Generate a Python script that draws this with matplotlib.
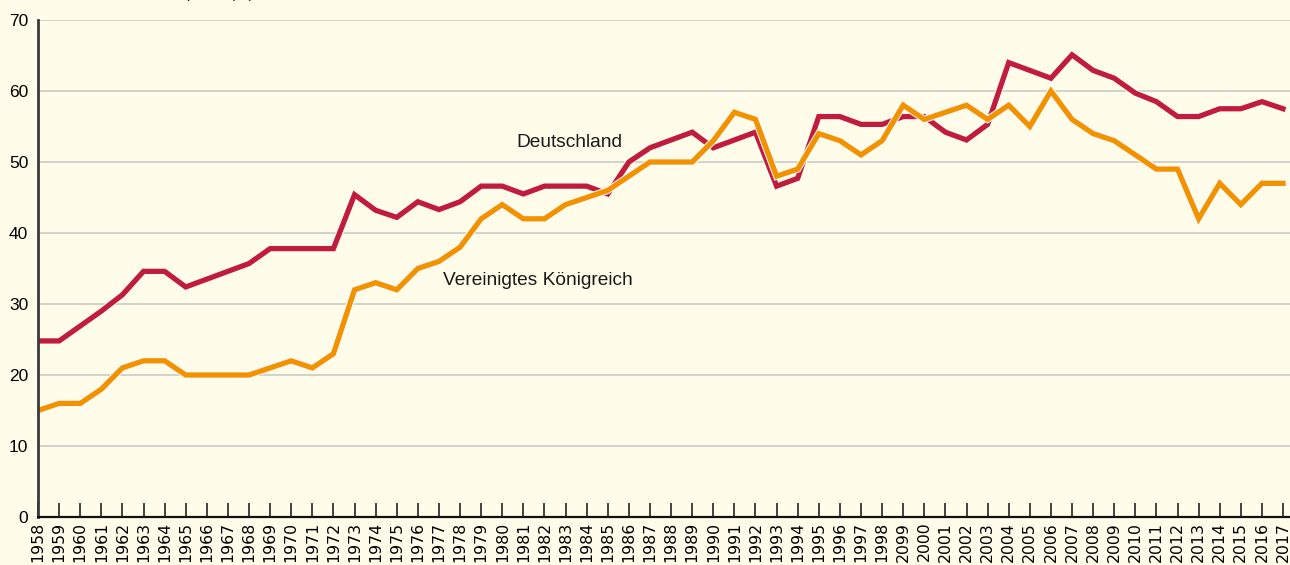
import matplotlib
matplotlib.use("Agg")
import matplotlib.pyplot as plt
import matplotlib.patheffects as pe

years = list(range(1958, 2018))
year_labels = [str(y) for y in years]
year_labels[years.index(1999)] = "2099"  # as printed in the original

deutschland = [24.8, 24.8, 26.9, 29.0, 31.3, 34.6, 34.6, 32.4, 33.5, 34.6,
               35.7, 37.8, 37.8, 37.8, 37.8, 45.4, 43.2, 42.2, 44.4, 43.3,
               44.4, 46.6, 46.6, 45.5, 46.6, 46.6, 46.6, 45.5, 50.0, 52.0,
               53.1, 54.2, 52.0, 53.1, 54.2, 46.6, 47.7, 56.4, 56.4, 55.3,
               55.3, 56.4, 56.4, 54.2, 53.1, 55.3, 64.0, 62.9, 61.8, 65.1,
               62.9, 61.8, 59.7, 58.5, 56.4, 56.4, 57.5, 57.5, 58.5, 57.5]

vereinigtes_koenigreich = [15, 16, 16, 18, 21, 22, 22, 20, 20, 20,
                           20, 21, 22, 21, 23, 32, 33, 32, 35, 36,
                           38, 42, 44, 42, 42, 44, 45, 46, 48, 50,
                           50, 50, 53, 57, 56, 48, 49, 54, 53, 51,
                           53, 58, 56, 57, 58, 56, 58, 55, 60, 56,
                           54, 53, 51, 49, 49, 42, 47, 44, 47, 47]

y_ticks = [0, 10, 20, 30, 40, 50, 60, 70]

BG = "#FFFCE9"
RED = "#C11D3B"
ORANGE = "#F39200"

W, H = 1290, 565
fig = plt.figure(figsize=(W / 100, H / 100), dpi=100, facecolor=BG)
left_px, right_px, top_px, bottom_px = 38, 1290, 20, 517
ax = fig.add_axes([left_px / W, (H - bottom_px) / H,
                   (right_px - left_px) / W, (bottom_px - top_px) / H])
ax.set_facecolor(BG)

ax.set_xlim(1958, 2017.33)
ax.set_ylim(0, 70)

for y in y_ticks[1:]:
    ax.axhline(y, color="#CBCBC6", lw=1.2, zorder=1)

ax.plot(years, deutschland, color=RED, lw=3.8, solid_joinstyle="miter",
        zorder=3, path_effects=[pe.Stroke(linewidth=5.2, foreground="#FFFFFF"), pe.Normal()])
ax.plot(years, vereinigtes_koenigreich, color=ORANGE, lw=3.8, solid_joinstyle="miter",
        zorder=4, path_effects=[pe.Stroke(linewidth=5.2, foreground="#FFFFFF"), pe.Normal()])

font = "Liberation Sans"
ax.text(1983.2, 52.8, "Deutschland", fontsize=13.8, family=font, ha="center",
        va="center", color="#1a1a1a")
ax.text(1977.2, 33.3, "Vereinigtes Königreich", fontsize=13.8, family=font,
        ha="left", va="center", color="#1a1a1a")

ax.set_xticks(years)
ax.set_xticklabels(year_labels, rotation=90, fontsize=11.3, family="DejaVu Sans", va="top")
ax.tick_params(axis="x", direction="in", length=10, width=1.2, color="#222222", pad=3.5)
ax.set_yticks(y_ticks)
ax.set_yticklabels([str(v) for v in y_ticks], fontsize=12.5, family=font)
ax.tick_params(axis="y", length=0, pad=7)

for s in ["top", "right"]:
    ax.spines[s].set_visible(False)
ax.spines["left"].set_color("#3a3a3a")
ax.spines["left"].set_linewidth(2)
ax.spines["bottom"].set_color("#111111")
ax.spines["bottom"].set_linewidth(1.6)
ax.spines["left"].set_zorder(5)
ax.spines["bottom"].set_zorder(5)

fig.text(170 / W, 1 + 2 / H, "Importe, (%)", fontsize=11, family=font,
         va="baseline", ha="left", color="#1a1a1a")

fig.savefig("out.png", dpi=100, facecolor=BG)
